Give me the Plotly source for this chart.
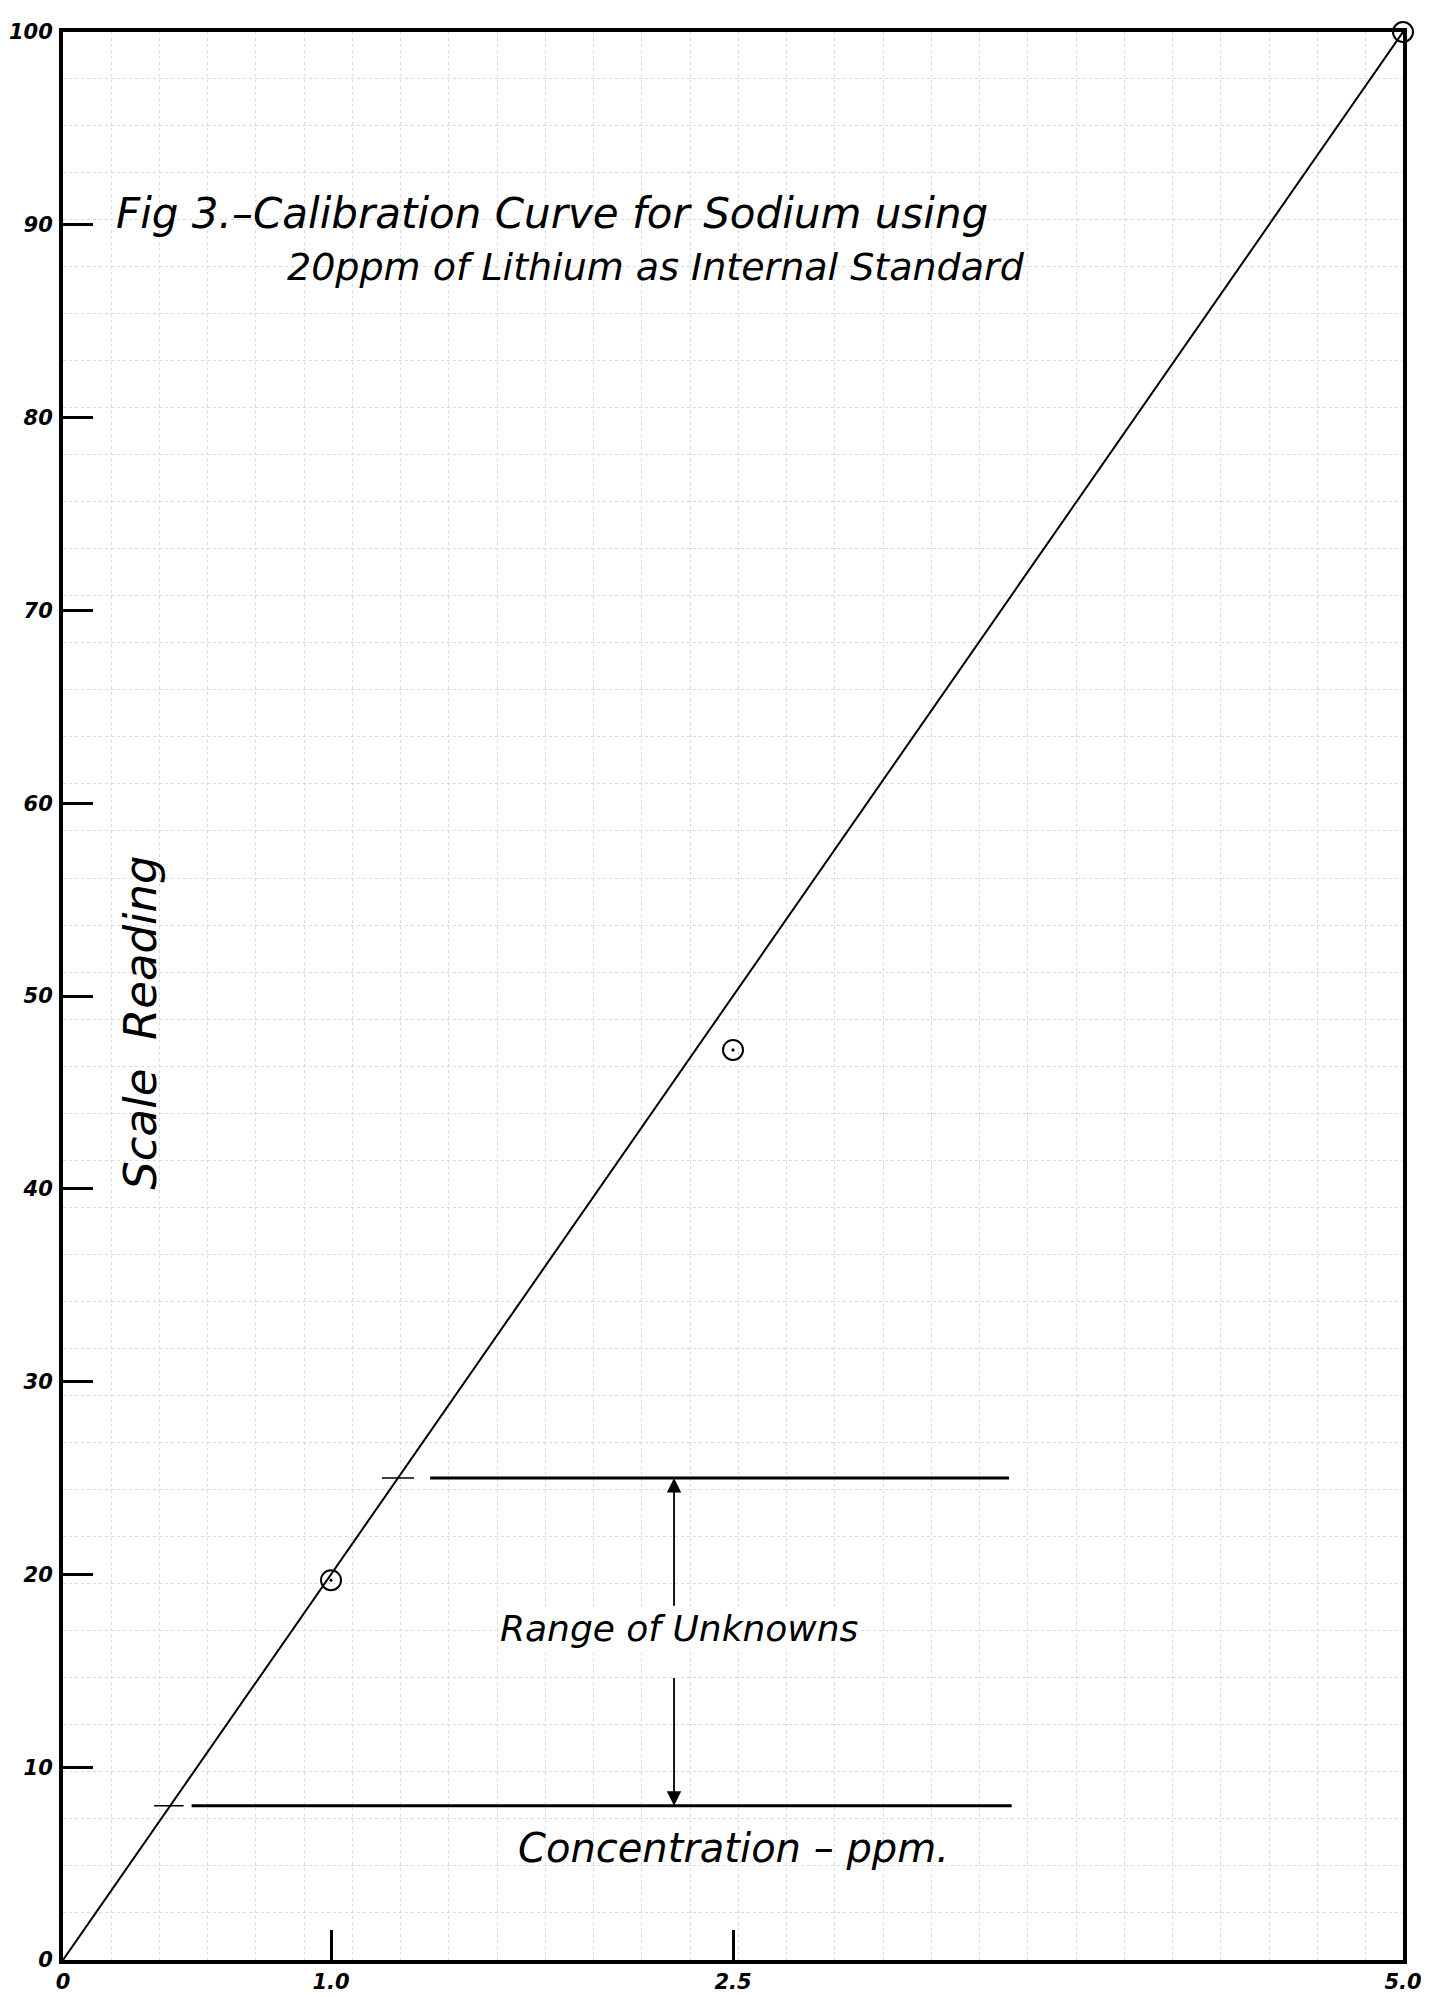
import plotly.graph_objects as go

# ---- data ----
curve_x = [0.0, 5.0]
curve_y = [0.0, 100.0]
point_x = [1.0, 2.5, 5.0]
point_y = [19.7, 47.2, 100.0]
range_upper = 25.0
range_lower = 8.0
upper_line_x = [1.37, 3.53]
lower_line_x = [0.48, 3.54]
upper_dash_x = [1.19, 1.31]
lower_dash_x = [0.34, 0.45]
arrow_x = 2.28
x_tickvals = [0, 1.0, 2.5, 5.0]
x_ticktext = ["0", "1.0", "2.5", "5.0"]
y_tickvals = [0, 10, 20, 30, 40, 50, 60, 70, 80, 90, 100]
y_ticktext = [str(v) for v in y_tickvals]

FONT = "DejaVu Sans, Liberation Sans, sans-serif"

fig = go.Figure()

# calibration line
fig.add_trace(go.Scatter(x=curve_x, y=curve_y, mode="lines",
                         line=dict(color="black", width=2), showlegend=False,
                         cliponaxis=False, hoverinfo="skip"))
# range lines
for lx, ly, w in ((upper_line_x, range_upper, 3), (lower_line_x, range_lower, 3),
                  (upper_dash_x, range_upper, 1.5), (lower_dash_x, range_lower, 1.5)):
    fig.add_trace(go.Scatter(x=lx, y=[ly, ly], mode="lines",
                             line=dict(color="black", width=w), showlegend=False))
# data points
fig.add_trace(go.Scatter(x=point_x, y=point_y, mode="markers",
                         marker=dict(symbol="circle-open-dot", size=20, color="black",
                                     line=dict(color="black", width=2)),
                         showlegend=False, cliponaxis=False))

# double arrow (range of unknowns)
mid = (range_upper + range_lower) / 2
for tip in (range_upper, range_lower):
    fig.add_annotation(x=arrow_x, y=tip, ax=arrow_x, ay=mid + (1.8 if tip > mid else -1.8),
                       xref="x", yref="y", axref="x", ayref="y",
                       showarrow=True, arrowhead=2, arrowsize=1.6, arrowwidth=1.8,
                       arrowcolor="black", text="")

ital = dict(family=FONT, color="black", style="italic")

fig.add_annotation(x=2.30, y=17.2, text="Range of Unknowns", showarrow=False,
                   font=dict(size=36, **ital), bgcolor="white")
fig.add_annotation(x=2.50, y=5.8, text="Concentration – ppm.", showarrow=False,
                   font=dict(size=40, **ital))
fig.add_annotation(x=0.19, y=90.6, text="Fig 3.–Calibration Curve for Sodium using",
                   xanchor="left", showarrow=False, font=dict(size=42, **ital))
fig.add_annotation(x=0.83, y=87.8, text="20ppm of Lithium as Internal Standard",
                   xanchor="left", showarrow=False, font=dict(size=38, **ital))
fig.add_annotation(x=0.29, y=48.6, text="Scale  Reading", textangle=-90,
                   showarrow=False, font=dict(size=45, **ital))

tickfont = dict(size=21, family=FONT, color="black", style="italic", weight="bold")
fig.update_xaxes(range=[0, 5], tickvals=x_tickvals, ticktext=x_ticktext,
                 ticks="inside", ticklen=30, tickwidth=3, tickcolor="black",
                 showline=True, linewidth=4, linecolor="black", mirror=True,
                 showgrid=False, zeroline=False, tickfont=tickfont, automargin=False,
                 minor=dict(showgrid=True, tick0=0, dtick=0.18, gridcolor="#dadada",
                            griddash="dot", gridwidth=1))
fig.update_yaxes(range=[0, 100], tickvals=y_tickvals, ticktext=y_ticktext,
                 ticks="inside", ticklen=30, tickwidth=3, tickcolor="black",
                 showline=True, linewidth=4, linecolor="black", mirror=True,
                 showgrid=False, zeroline=False, tickfont=tickfont, automargin=False,
                 ticklabelstandoff=2,
                 minor=dict(showgrid=True, tick0=0, dtick=2.44, gridcolor="#dadada",
                            griddash="dot", gridwidth=1))

fig.update_layout(width=1429, height=1997,
                  margin=dict(l=55, r=34, t=24, b=45),
                  paper_bgcolor="white", plot_bgcolor="white",
                  showlegend=False)

fig.write_html("out.html")
